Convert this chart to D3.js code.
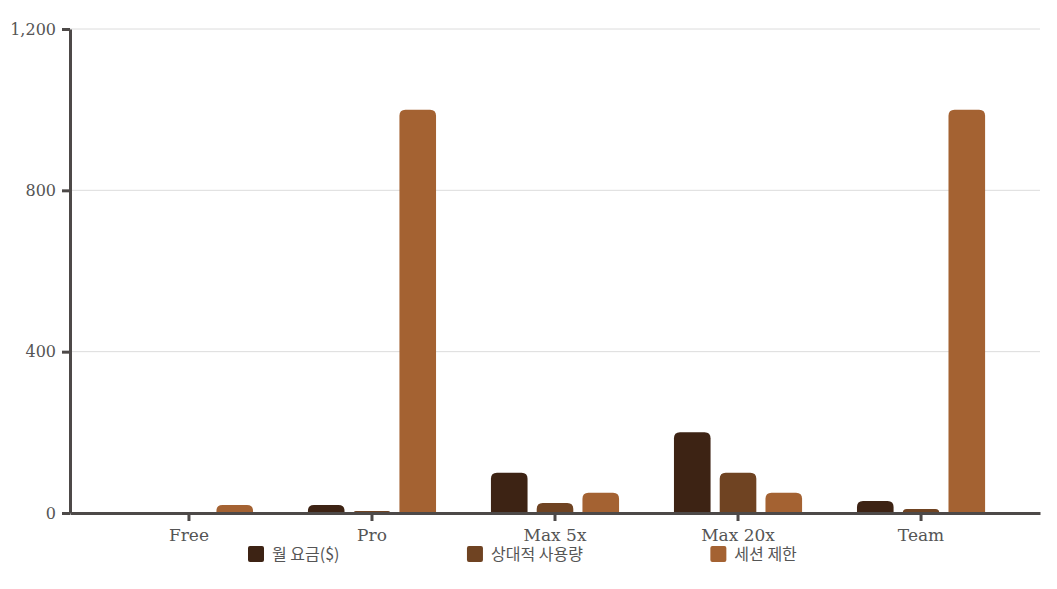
<!DOCTYPE html>
<html><head><meta charset="utf-8">
<script src="https://cdn.jsdelivr.net/npm/d3@7"></script>
<style>
html,body{margin:0;padding:0;background:#fff;}
svg{display:block;}
</style></head>
<body><svg id="chart" width="1057" height="589"></svg>
<script>
const categories = ["Free", "Pro", "Max 5x", "Max 20x", "Team"];
const seriesNames = ["월 요금($)", "상대적 사용량", "세션 제한"];
const monthlyFee = [0, 20, 100, 200, 30];
const relativeUsage = [1, 5, 25, 100, 10];
const sessionLimit = [20, 1000, 50, 50, 1000];
const yTicks = [0, 400, 800, 1200];
const colors = ["#3d2314", "#6f4322", "#a46232"];

(function () {
const seriesValues = [monthlyFee, relativeUsage, sessionLimit];
const svg = d3.select("#chart");
const mLeft = 70, mRight = 1040, mTop = 29, mBottom = 513;
const axisColor = "#4d4948";

const x0 = d3.scaleBand().domain(categories).range([mLeft, mRight]).paddingInner(0.2).paddingOuter(0.25);
const x1 = d3.scaleBand().domain(seriesNames).range([0, x0.bandwidth()]).paddingInner(0.2).paddingOuter(0.2);
const y = d3.scaleLinear().domain([0, 1200]).range([mBottom, mTop]);

// grid
svg.append("g").selectAll("line").data(yTicks.filter(d => d > 0)).join("line")
  .attr("x1", mLeft).attr("x2", mRight).attr("y1", d => y(d)).attr("y2", d => y(d))
  .attr("stroke", "#dcdcdc").attr("stroke-width", 1);

// bars
function barPath(xp, w, yTop, yBase, r) {
  const h = yBase - yTop;
  if (h <= 0) return "";
  const rr = Math.min(r, h, w / 2);
  return `M${xp},${yBase}V${yTop + rr}Q${xp},${yTop} ${xp + rr},${yTop}H${xp + w - rr}Q${xp + w},${yTop} ${xp + w},${yTop + rr}V${yBase}Z`;
}
const rows = [];
categories.forEach((c, i) => seriesNames.forEach((s, j) => rows.push({c, s, j, v: seriesValues[j][i]})));
svg.append("g").selectAll("path").data(rows).join("path")
  .attr("d", d => barPath(x0(d.c) + x1(d.s), x1.bandwidth(), y(d.v), y(0), 6))
  .attr("fill", d => colors[d.j]);

// y axis
const yAxis = svg.append("g").attr("transform", `translate(${mLeft},0)`)
  .call(d3.axisLeft(y).tickValues(yTicks).tickFormat(d3.format(",")).tickSize(8).tickSizeOuter(0).tickPadding(6));
// x axis
const xAxis = svg.append("g").attr("transform", `translate(0,${y(0)})`)
  .call(d3.axisBottom(x0).tickSize(8).tickSizeOuter(0).tickPadding(8));
[yAxis, xAxis].forEach(a => {
  a.select(".domain").attr("stroke", axisColor).attr("stroke-width", 3);
  a.selectAll(".tick line").attr("stroke", axisColor).attr("stroke-width", 3);
  a.selectAll("text").attr("fill", "#555").style("font-family", "'DejaVu Serif', serif");
});
yAxis.selectAll("text").style("font-size", "16px");
xAxis.selectAll("text").style("font-size", "17px");

// legend
const legend = svg.append("g");
let lx = 248;
seriesNames.forEach((s, j) => {
  const g = legend.append("g").attr("transform", `translate(${lx},546)`);
  g.append("rect").attr("width", 16).attr("height", 16).attr("rx", 2).attr("fill", colors[j]);
  const t = g.append("text").attr("x", 24).attr("y", 14).text(s)
    .attr("fill", "#555").style("font-family", "'Noto Sans CJK KR', sans-serif").style("font-size", "16px");
  lx += 24 + t.node().getComputedTextLength() + 127.5;
});
})();
</script></body></html>
